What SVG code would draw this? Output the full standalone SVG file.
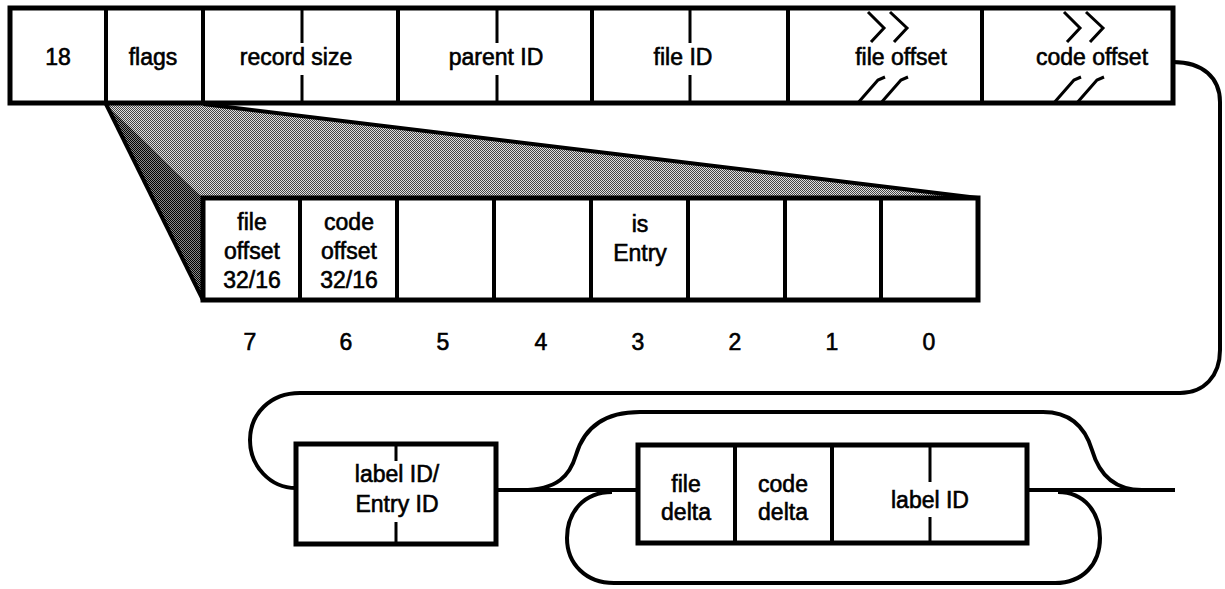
<svg xmlns="http://www.w3.org/2000/svg" width="1225" height="589" viewBox="0 0 1225 589">
<style>
.box{fill:#fff;stroke:#000;stroke-width:5}
.div{stroke:#000;stroke-width:4;fill:none}
.tick{stroke:#000;stroke-width:3;fill:none}
.conn{stroke:#000;stroke-width:4;fill:none}
.chev{stroke:#000;stroke-width:3;fill:none}
text{font-family:"Liberation Sans",Arial,sans-serif;font-size:23px;fill:#000;stroke:#000;stroke-width:0.6;text-anchor:middle}
</style>
<defs>
<pattern id="light" width="2" height="2" patternUnits="userSpaceOnUse">
<rect width="2" height="2" fill="#e0e0e0"/>
<rect x="0" y="0" width="1" height="1" fill="#444"/>
<rect x="1" y="1" width="1" height="1" fill="#444"/>
</pattern>
<pattern id="dark" width="2" height="2" patternUnits="userSpaceOnUse">
<rect width="2" height="2" fill="#888"/>
<rect x="0" y="0" width="1" height="1" fill="#000"/>
<rect x="1" y="1" width="1" height="1" fill="#000"/>
</pattern>
</defs>

<g id="expansion">
<polygon points="106,104 203,104 978,198 203,198" fill="url(#light)"/>
<polygon points="106,104 203,198 203,300" fill="url(#dark)"/>
<line x1="203" y1="104" x2="978" y2="198" class="div"/>
<line x1="106" y1="104" x2="203" y2="300" class="div"/>
</g>

<g id="header-record">
<rect x="10" y="8" width="1163" height="95" class="box"/>
<line x1="106" y1="8" x2="106" y2="103" class="div"/>
<line x1="203" y1="8" x2="203" y2="103" class="div"/>
<line x1="398" y1="8" x2="398" y2="103" class="div"/>
<line x1="592" y1="8" x2="592" y2="103" class="div"/>
<line x1="788" y1="8" x2="788" y2="103" class="div"/>
<line x1="982" y1="8" x2="982" y2="103" class="div"/>
<path class="tick" d="M302 8V43M302 75V103M497 8V43M497 75V103M690 8V43M690 75V103"/>
<path class="chev" d="M868 12L884 28L871 42M890 12L907 28L894 42M857 104L878 80L885 77M880 104L901 80L908 77"/>
<path class="chev" d="M1064 12L1080 28L1067 42M1086 12L1103 28L1090 42M1053 104L1074 80L1081 77M1076 104L1097 80L1104 77"/>
<text x="58" y="65">18</text>
<text x="153" y="65">flags</text>
<text x="296" y="65">record size</text>
<text x="496" y="65">parent ID</text>
<text x="683" y="65">file ID</text>
<text x="901" y="65">file offset</text>
<text x="1092" y="65">code offset</text>
</g>

<g id="flags-bits">
<rect x="203" y="198" width="775" height="102" class="box"/>
<path class="div" d="M300 198V300M397 198V300M494 198V300M591 198V300M688 198V300M785 198V300M881 198V300"/>
<text x="252" y="230">file</text>
<text x="252" y="259">offset</text>
<text x="252" y="288">32/16</text>
<text x="349" y="230">code</text>
<text x="349" y="259">offset</text>
<text x="349" y="288">32/16</text>
<text x="640" y="232">is</text>
<text x="640" y="261">Entry</text>
</g>

<g id="bit-numbers">
<text x="250" y="350">7</text>
<text x="346" y="350">6</text>
<text x="443" y="350">5</text>
<text x="541" y="350">4</text>
<text x="638" y="350">3</text>
<text x="735" y="350">2</text>
<text x="832" y="350">1</text>
<text x="929" y="350">0</text>
</g>

<g id="connectors">
<path class="conn" d="M1173 62C1203 62 1220 78 1220 102L1220 350C1220 376 1204 393 1180 393L300 393C270 393 250 414 250 440C250 466 270 488 296 488"/>
<path class="conn" d="M496 490L638 490"/>
<path class="conn" d="M1027 490L1175 490"/>
<path class="conn" d="M522 490C558 490 570 475 576 455C584 428 604 412 640 412L1043 412C1073 412 1086 430 1092 450C1099 474 1114 490 1142 490"/>
<path class="conn" d="M612 492C584 492 567 512 567 538C567 564 586 583 614 583L1055 583C1083 583 1100 564 1100 538C1100 512 1084 492 1058 492"/>
</g>

<g id="label-entry">
<rect x="296" y="444" width="200" height="100" class="box"/>
<path class="tick" d="M396 444V461M396 522V544"/>
<text x="397" y="482">label ID/</text>
<text x="397" y="512">Entry ID</text>
</g>

<g id="delta-record">
<rect x="638" y="445" width="389" height="98" class="box"/>
<path class="div" d="M735 445V543M832 445V543"/>
<path class="tick" d="M930 445V482M930 517V543"/>
<text x="686" y="492">file</text>
<text x="686" y="520">delta</text>
<text x="783" y="492">code</text>
<text x="783" y="520">delta</text>
<text x="930" y="508">label ID</text>
</g>
</svg>
